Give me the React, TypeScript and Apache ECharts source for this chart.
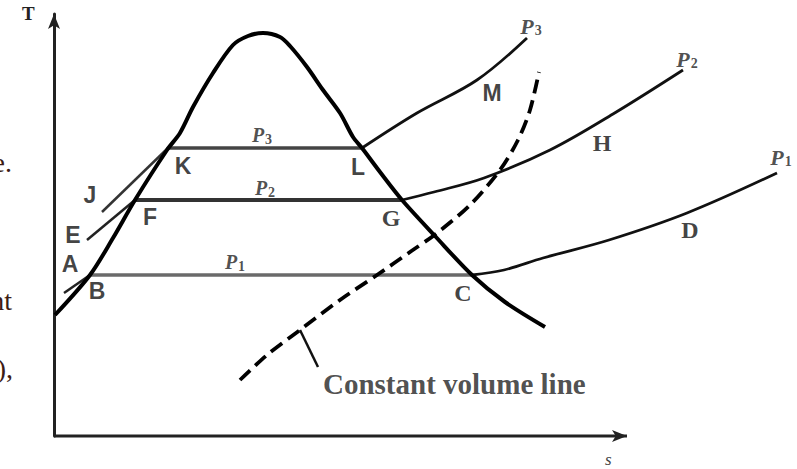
import React, { useEffect, useRef } from "react";
import * as echarts from "echarts";

type Pt = [number, number];

// Saturation dome: liquid branch -> critical point -> vapour branch  (s, T)
const saturationDome: Pt[] = [
  [0.2, 30.25], [7.2, 40.25], [11.8, 49.5], [16.2, 59], [22.6, 71.5],
  [25.2, 75.75], [27.8, 82.25], [31.8, 90.75], [35.8, 97.75], [38.8, 100],
  [41.8, 100.75], [45.2, 99.75], [47.2, 97.5], [50.6, 92.25], [53.8, 86.5],
  [57.2, 80.75], [59.8, 74.75], [61.6, 72], [65.2, 66], [69.6, 59],
  [76.2, 50], [83.6, 40.25], [90.2, 33.5], [98.2, 27.25],
];

// Isobars inside the dome (constant temperature during evaporation)
const isobarP1Wet: Pt[] = [[7.2, 40.25], [83.6, 40.25]];
const isobarP2Wet: Pt[] = [[16.2, 59], [69.6, 59]];
const isobarP3Wet: Pt[] = [[22.8, 72], [61.6, 72]];

// Superheated vapour isobars
const isobarP1Vapour: Pt[] = [[83.6, 40.25], [90, 41.5], [97.8, 44.5], [111, 49], [126.6, 55.75], [144.6, 65.75]];
const isobarP2Vapour: Pt[] = [[69.6, 59], [76, 61], [86, 64.5], [99.2, 71.5], [111.8, 80.5], [125.8, 91.5]];
const isobarP3Vapour: Pt[] = [[61.6, 72], [72.6, 80.75], [84.6, 89], [94.6, 99.5]];

// Compressed liquid isobars
const isobarP1Liquid: Pt[] = [[2, 35.75], [7.2, 40.25]];
const isobarP2Liquid: Pt[] = [[6.6, 49], [16.2, 59]];
const isobarP3Liquid: Pt[] = [[9.6, 56], [22.8, 72]];

// Constant volume line and its callout
const constantVolume: Pt[] = [
  [37.2, 14], [42.6, 20.25], [49.2, 26.5], [57.2, 34], [64.6, 40.25], [71.2, 46],
  [76.6, 50.75], [83.2, 57.75], [89.2, 66.5], [92.8, 74], [95.2, 81.5], [97, 91],
];
const volumeCallout: Pt[] = [[49.2, 26.5], [52.8, 17.25]];

// State points
const stateNames = ["A", "B", "E", "F", "J", "K", "L", "G", "C", "M", "H", "D"];
const statePoints: Pt[] = [
  [2, 35.75], [7.2, 40.25], [6.6, 49], [16.2, 59], [9.6, 56], [22.8, 72],
  [61.6, 72], [69.6, 59], [83.6, 40.25], [84.6, 89], [107.8, 77.25], [126.6, 55.75],
];
const stateOffsets: Pt[] = [
  [6, -29], [7, 16], [-14, -5], [15, 17], [-12, -17], [15, 18],
  [-4, 19], [-11, 18], [-9, 18], [15, 13], [9, 16], [3, 17],
];

// Pressure labels: ends of the vapour isobars and along the wet isobars
const pressureNames = ["3", "2", "1", "3", "2", "1"];
const pressurePoints: Pt[] = [
  [94.6, 99.5], [125.8, 91.5], [144.6, 65.75], [41.6, 72], [42.2, 59], [36.2, 40.25],
];
const pressureOffsets: Pt[] = [[4, -12], [4, -11], [4, -16], [0, -13], [0, -12], [0, -13]];

// Axis extents (s on the horizontal axis, T vertical) and the drawn s-axis length
const S_MAX = 147.2;
const T_MAX = 105.5;
const S_AXIS_END = 114.6;

// Letters set in a roman face rather than the grotesque
const romanLetters = new Set(["G", "C", "H", "D"]);

const lineSeries = (data: any[], color: string, width: number, extra: any = {}) => ({
  type: "line",
  data,
  symbol: "none",
  clip: false,
  silent: true,
  lineStyle: { color, width, ...(extra.lineStyle || {}) },
  itemStyle: { color },
  smooth: extra.smooth ?? false,
  z: extra.z ?? 2,
});

export default function App() {
  const ref = useRef<HTMLDivElement>(null);

  useEffect(() => {
    if (!ref.current) return;
    const chart = echarts.init(ref.current, undefined, { renderer: "svg" });

    const letterFont = "'Liberation Sans', Arial, sans-serif";
    const serif = "'Liberation Serif', 'Times New Roman', serif";

    chart.setOption({
      animation: false,
      backgroundColor: "#ffffff",
      grid: { left: 54, right: 7, top: 14, bottom: 33 },
      xAxis: {
        type: "value",
        min: 0,
        max: S_MAX,
        axisLine: { show: false },
        axisTick: { show: false },
        axisLabel: { show: false },
        splitLine: { show: false },
      },
      yAxis: {
        type: "value",
        min: 0,
        max: T_MAX,
        axisLine: { show: true, lineStyle: { color: "#222", width: 3 }, symbol: ["none", "arrow"], symbolSize: [9, 15] },
        axisTick: { show: false },
        axisLabel: { show: false },
        splitLine: { show: false },
      },
      graphic: [
        { type: "text", left: 22, top: 4, style: { text: "T", font: `bold 19px ${serif}`, fill: "#222" } },
        { type: "text", left: 605, top: 451, style: { text: "s", font: `italic 17px ${serif}`, fill: "#444" } },
        { type: "text", right: 785, top: 148, style: { text: "e.", font: `28px ${serif}`, fill: "#3d1c14", textAlign: "right" } },
        { type: "text", right: 785, top: 286, style: { text: "nt", font: `28px ${serif}`, fill: "#3d1c14", textAlign: "right" } },
        { type: "text", right: 784, top: 354, style: { text: "0),", font: `28px ${serif}`, fill: "#3d1c14", textAlign: "right" } },
      ],
      series: [
        // s axis with arrowhead
        lineSeries(
          [
            { value: [0, 0], symbol: "none" },
            { value: [S_AXIS_END, 0], symbol: "arrow", symbolSize: [9, 15], symbolRotate: -90 },
          ],
          "#222",
          3,
          { z: 4 }
        ),
        lineSeries(isobarP1Wet, "#6a6a6a", 3.5),
        lineSeries(isobarP2Wet, "#333", 4),
        lineSeries(isobarP3Wet, "#444", 3.5),
        lineSeries(saturationDome, "#000", 4, { smooth: 0.3, z: 3 }),
        lineSeries(isobarP1Vapour, "#111", 2.8, { smooth: 0.35 }),
        lineSeries(isobarP2Vapour, "#111", 2.8, { smooth: 0.35 }),
        lineSeries(isobarP3Vapour, "#111", 2.8, { smooth: 0.35 }),
        lineSeries(isobarP1Liquid, "#222", 2.5),
        lineSeries(isobarP2Liquid, "#222", 2.5),
        lineSeries(isobarP3Liquid, "#333", 2.5),
        lineSeries(constantVolume, "#000", 3.8, { smooth: 0.3, lineStyle: { type: [14, 7] } }),
        lineSeries(volumeCallout, "#111", 2.5),
        {
          type: "scatter",
          symbolSize: 0,
          silent: true,
          clip: false,
          z: 5,
          data: statePoints.map((p, i) => {
            const roman = romanLetters.has(stateNames[i]);
            return {
              value: p,
              label: {
                show: true,
                position: "inside",
                formatter: stateNames[i],
                offset: stateOffsets[i],
                fontFamily: roman ? serif : letterFont,
                fontWeight: "bold",
                fontSize: roman ? 24 : 23,
                color: "#111",
              },
            };
          }),
        },
        {
          type: "scatter",
          symbolSize: 0,
          silent: true,
          clip: false,
          z: 5,
          data: pressurePoints.map((p, i) => ({
            value: p,
            label: {
              show: true,
              position: "inside",
              formatter: `{p|P}{n|${pressureNames[i]}}`,
              offset: pressureOffsets[i],
              rich: {
                p: { fontFamily: serif, fontStyle: "italic", fontWeight: "bold", fontSize: i < 3 ? 22 : 20, color: "#222" },
                n: { fontFamily: serif, fontWeight: "bold", fontSize: 14, color: "#222", padding: [8, 0, 0, 1] },
              },
            },
          })),
        },
        {
          type: "scatter",
          symbolSize: 0,
          silent: true,
          clip: false,
          z: 5,
          data: [
            {
              value: volumeCallout[1],
              label: {
                show: true,
                position: "inside",
                align: "left",
                formatter: "Constant volume line",
                offset: [5, 17],
                fontFamily: serif,
                fontWeight: "bold",
                fontSize: 29,
                color: "#222",
              },
            },
          ],
        },
      ],
    });

    return () => chart.dispose();
  }, []);

  return (
    <div
      ref={ref}
      style={{ position: "absolute", left: 0, top: 0, width: 797, height: 469, background: "#fff" }}
    />
  );
}
